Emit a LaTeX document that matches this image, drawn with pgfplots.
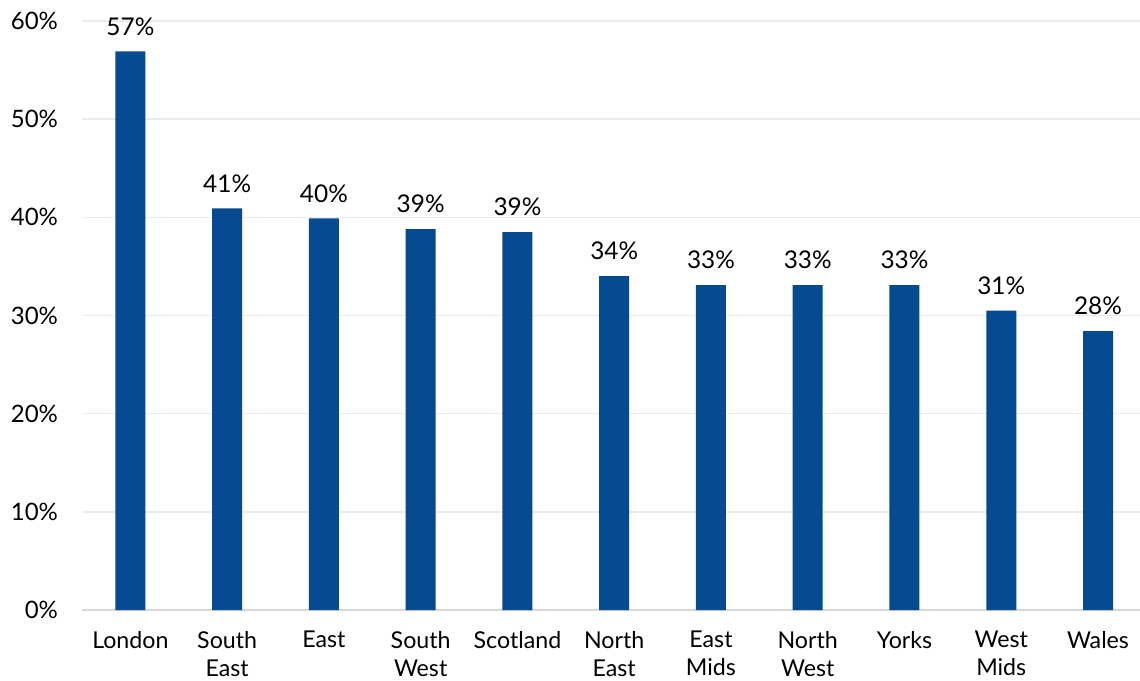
\documentclass[border=0pt]{standalone}
\usepackage{fontspec}
\setmainfont{Lato}
\usepackage{pgfplots}
\pgfplotsset{compat=1.18}
\definecolor{barblue}{RGB}{6,74,146}
\definecolor{gridgray}{RGB}{235,235,235}
\definecolor{axisgray}{RGB}{215,215,215}
\begin{document}
\begin{tikzpicture}
\useasboundingbox (-41pt,-35pt) rectangle (529pt,305pt);
\begin{axis}[
  at={(0,0)}, anchor=south west,
  scale only axis,
  width=529pt, height=294.5pt,
  xmin=-0.5, xmax=10.434,
  ymin=0, ymax=60,
  ytick={0,10,20,30,40,50,60},
  yticklabels={0\%,10\%,20\%,30\%,40\%,50\%,60\%},
  xtick={0,...,10},
  xticklabels={London,South\\East,East,South\\West,Scotland,North\\East,East\\Mids,North\\West,Yorks,West\\Mids,Wales},
  xticklabel style={align=center, font=\fontsize{11.6}{14}\selectfont, yshift=-7pt},
  yticklabel style={font=\fontsize{12}{13}\selectfont, xshift=-8.5pt},
  axis lines*=left,
  y axis line style={draw=none},
  x axis line style={axisgray, line width=1pt, -},
  ymajorgrids,
  grid style={gridgray, line width=0.8pt},
  major tick length=0pt,
  tick style={draw=none},
  ybar, bar width=15pt,
  nodes near coords,
  point meta=explicit symbolic,
  nodes near coords style={font=\fontsize{12.2}{13}\selectfont, anchor=south, yshift=4.5pt},
  clip=false,
]
\addplot[fill=barblue, draw=none] coordinates {
(0,56.9) [57\%]
(1,40.9) [41\%]
(2,39.9) [40\%]
(3,38.8) [39\%]
(4,38.5) [39\%]
(5,34.0) [34\%]
(6,33.1) [33\%]
(7,33.1) [33\%]
(8,33.1) [33\%]
(9,30.5) [31\%]
(10,28.4) [28\%]
};
\end{axis}
\end{tikzpicture}
\end{document}
